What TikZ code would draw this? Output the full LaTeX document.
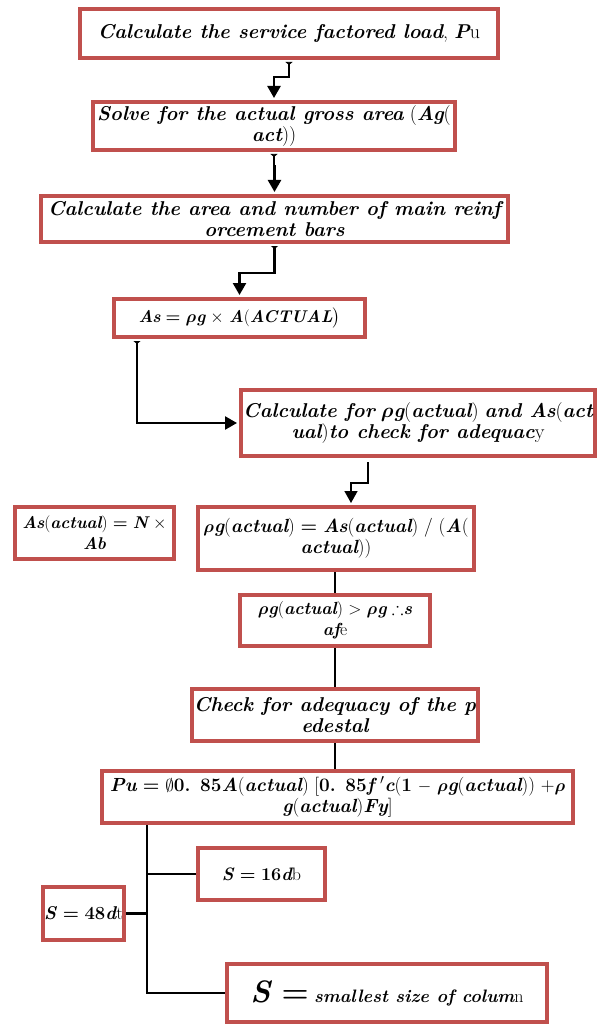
\documentclass[tikz,border=0pt]{standalone}
\usepackage{amsmath,amssymb}
\usetikzlibrary{arrows.meta,calc}
\definecolor{boxred}{HTML}{C0504D}

% bold italic running text
\newcommand{\bi}[1]{{\bfseries\itshape #1}}
\newcommand{\rhob}{$\boldsymbol{\rho}$}
\newcommand{\fs}[1]{\fontsize{#1}{21}\selectfont}

\tikzset{
  box/.style={draw=boxred, line width=4pt, fill=white, inner sep=0pt,
    align=center, font=\fs{20}},
  flow/.style={line width=2.4pt,
    {Triangle[reversed,width=7pt,length=3pt]}-{Triangle[width=13pt,length=12pt]},
    shorten <=2pt, shorten >=2pt},
  flowthin/.style={line width=1.6pt, -{Triangle[width=13pt,length=12pt]},
    shorten >=2pt},
  link/.style={line width=2.6pt}
}

\begin{document}
\begin{tikzpicture}[x=1pt,y=1pt]
\useasboundingbox (0,0) rectangle (605,-1024);

% process boxes (centre, inner width and height)
\node[box, minimum width=418pt, minimum height=49pt] (b1) at (289,-33.5)
  {\bi{Calculate the service factored load}, \bi{P}u};
\node[box, minimum width=362pt, minimum height=48pt] (b2) at (274,-126)
  {\bi{Solve for the actual gross area} (\bi{Ag}(\\\bi{act}))};
\node[box, minimum width=467pt, minimum height=46pt] (b3) at (274.5,-219)
  {\bi{Calculate the area and number of main reinf}\\\bi{orcement bars}};
\node[box, font=\fs{17}, minimum width=251pt, minimum height=38pt] (b4) at (239.5,-318)
  {\bi{As} \textbf{=} \rhob\bi{g} $\times$ \bi{A}(\bi{ACTUAL}$\big)$};
\node[box, minimum width=354pt, minimum height=66pt] (b5) at (418,-423)
  {\bi{Calculate for} \rhob\bi{g}(\bi{actual}) \bi{and As}(\bi{act}\\\bi{ual})\bi{to check for adequac}y};
\node[box, font=\fs{17}, minimum width=159pt, minimum height=52pt] (side) at (94.5,-533)
  {\bi{As}(\bi{actual}) \textbf{=} \bi{N} $\times$\\\bi{Ab}};
\node[box, font=\fs{19}, minimum width=276pt, minimum height=63pt] (b6) at (336,-538.5)
  {\rhob\bi{g}(\bi{actual}) \textbf{=} \bi{As}(\bi{actual}) / (\bi{A}(\\\bi{actual}))};
\node[box, font=\fs{17.5}, minimum width=190pt, minimum height=51pt] (b7) at (335,-620.5)
  {\rhob\bi{g}(\bi{actual}) $>$ \rhob\bi{g} $\therefore$\bi{s}\\\bi{af}e};
\node[box, minimum width=286pt, minimum height=52pt] (b8) at (335,-715)
  {\bi{Check for adequacy of the p}\\\bi{edestal}};
\node[box, font=\fs{19}, minimum width=471pt, minimum height=52pt] (b9) at (337.5,-797)
  {\bi{Pu} \textbf{=} $\emptyset$\textbf{0. 85}\bi{A}(\bi{actual}) [\textbf{0. 85}\bi{f} $'$\bi{c}(\textbf{1} $-$ \rhob\bi{g}(\bi{actual})) +\rhob\\\bi{g}(\bi{actual})\bi{Fy}]};
\node[box, font=\fs{18}, minimum width=127pt, minimum height=52pt] (b10) at (261.5,-874)
  {\bi{S} \textbf{=} \textbf{16}\bi{d}b};
\node[box, font=\fs{18.5}, minimum width=81pt, minimum height=53pt] (b11) at (83.5,-913.5)
  {\bi{S} \textbf{=} \textbf{48}\bi{d}t};
\node[box, font=\fs{18}, minimum width=320pt, minimum height=58pt] (b12) at (387,-993)
  {{\fontsize{31}{31}\selectfont\bi{S} \textbf{=}} \bi{smallest size of colum}n};

% arrows down the upper chain
\draw[flow] (b1.south) -- ++(0,-17) -| (b2.north);
\draw[flow] (b2.south) -- ++(0,-14) -| (b3.north);
\draw[flow] (b3.south) -- ++(0,-29) -| (b4.north);
\draw[flow] ($(b4.south west)+(25,0)$) |- (b5.west);
\draw[flowthin] ($(b5.south)+(-50,-4)$) -- ++(0,-21) -| ($(b6.north)+(15,0)$);

% plain links in the lower chain
\coordinate (mid) at (b7.south);
\draw[link] (b6.south -| mid) -- (b7.north);
\draw[link] (b7.south) -- (b8.north);
\draw[link] (b8.south) -- (b9.north -| mid);

% spacing branches
\coordinate (trunk) at ($(b9.south west)+(47,0)$);
\draw[link] (trunk) |- (b12.west);
\draw[link] (b10.west) -- (b10.west -| trunk);
\draw[link] (b11.east) -- (b11.east -| trunk);
\end{tikzpicture}
\end{document}
